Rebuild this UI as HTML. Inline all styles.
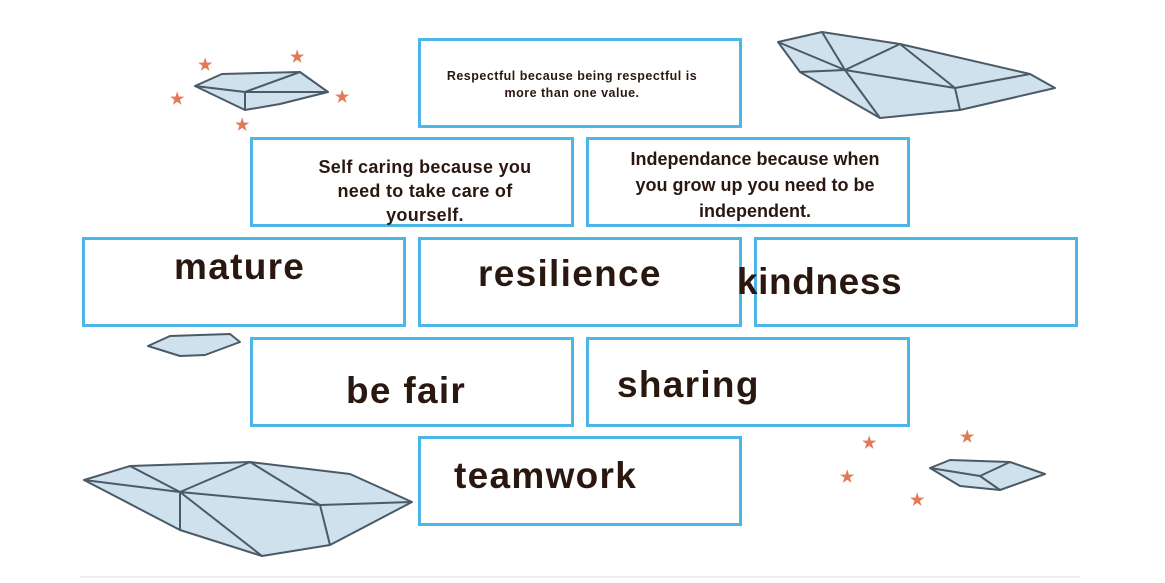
<!DOCTYPE html>
<html><head><style>
body{margin:0;width:1165px;height:583px;background:#fff;position:relative;overflow:hidden;font-family:"Liberation Sans",sans-serif;color:#2a1810;font-weight:bold}
.b{position:absolute;width:318px;height:84px;border:3px solid #4cb6e6;box-sizing:content-box;}
.t{position:absolute;white-space:nowrap;text-align:center}
.big{font-size:37px;letter-spacing:1.3px}
svg{position:absolute;left:0;top:0}
</style></head><body>
<svg width="1165" height="583">
<g fill="#cfe1ec" stroke="#4a5a66" stroke-width="2" stroke-linejoin="round">
<polygon points="778,42 822,32 900,44 1030,74 1055,88 960,110 880,118 800,72"/>
<path fill="none" d="M778,42 L845,70 L880,118 M845,70 L955,88 L960,110 M800,72 L845,70 L822,32 M845,70 L900,44 L955,88 L1030,74"/>
<polygon points="84,480 130,466 250,462 350,474 412,502 330,545 262,556 180,530"/>
<path fill="none" d="M84,480 L180,492 L262,556 M180,492 L320,505 L412,502 M130,466 L180,492 L250,462 L320,505 L330,545 M180,530 L180,492"/>
<polygon points="195,86 222,74 300,72 328,92 280,104 245,110"/>
<path fill="none" d="M195,86 L245,92 L245,110 M245,92 L300,72 M245,92 L328,92"/>
<polygon points="148,346 170,336 230,334 240,342 205,355 180,356"/>
<polygon points="930,468 950,460 1010,462 1045,474 1000,490 960,486"/>
<path fill="none" d="M930,468 L980,476 L1000,490 M980,476 L1010,462"/>
</g>
<g fill="#e27a5a">
<text x="198" y="70" font-size="16">★</text><text x="290" y="62" font-size="16">★</text>
<text x="170" y="104" font-size="16">★</text><text x="335" y="102" font-size="16">★</text>
<text x="235" y="130" font-size="16">★</text>
<text x="862" y="448" font-size="16">★</text><text x="960" y="442" font-size="16">★</text>
<text x="840" y="482" font-size="16">★</text><text x="910" y="505" font-size="16">★</text>
</g>
<line x1="80" y1="577" x2="1080" y2="577" stroke="#eee" stroke-width="2"/>
</svg>
<div class="b" style="left:418px;top:38px"></div>
<div class="b" style="left:250px;top:137px"></div>
<div class="b" style="left:586px;top:137px"></div>
<div class="b" style="left:82px;top:237px"></div>
<div class="b" style="left:418px;top:237px"></div>
<div class="b" style="left:754px;top:237px"></div>
<div class="b" style="left:250px;top:337px"></div>
<div class="b" style="left:586px;top:337px"></div>
<div class="b" style="left:418px;top:436px"></div>
<div class="t" style="left:422px;top:68px;width:300px;font-size:12.5px;line-height:17px;letter-spacing:0.5px">Respectful because being respectful is<br>more than one value.</div>
<div class="t" style="left:290px;top:155px;width:270px;font-size:18px;line-height:24px;letter-spacing:0.3px">Self caring because you<br>need to take care of<br>yourself.</div>
<div class="t" style="left:595px;top:146px;width:320px;font-size:18px;line-height:26px">Independance because when<br>you grow up you need to be<br>independent.</div>
<div class="t big" style="left:174px;top:246px">mature</div>
<div class="t big" style="left:478px;top:253px">resilience</div>
<div class="t big" style="left:737px;top:261px;letter-spacing:0.6px">kindness</div>
<div class="t big" style="left:346px;top:370px">be fair</div>
<div class="t big" style="left:617px;top:364px">sharing</div>
<div class="t big" style="left:454px;top:455px">teamwork</div>
</body></html>
